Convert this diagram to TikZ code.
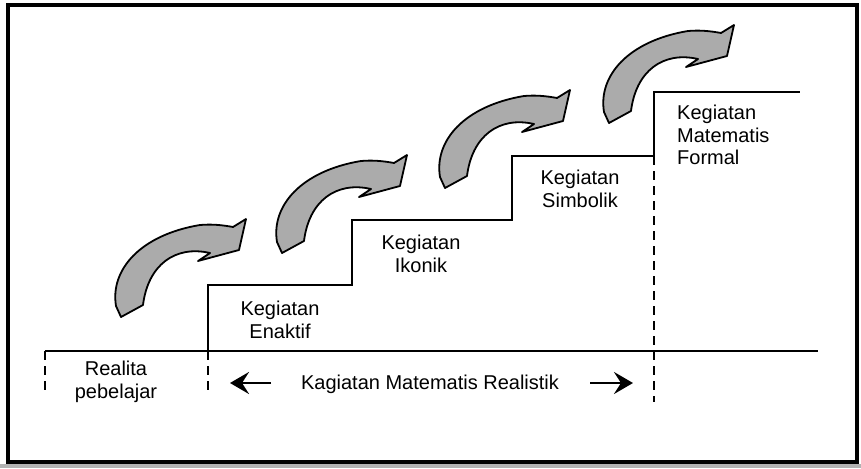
\documentclass[tikz,border=0pt]{standalone}
\usepackage{fontspec}
\setmainfont{Liberation Sans}
\usetikzlibrary{arrows.meta}
\begin{document}
\begin{tikzpicture}[x=1pt,y=-1pt,
  stair/.style={line width=2.7pt, line join=miter},
  dashline/.style={line width=2.7pt, dash pattern=on 9pt off 6pt},
  bend arrow/.style={fill=black!33, draw=black, line width=1.8pt, line join=round},
  lbl/.style={font=\fontsize{20}{22.5}\selectfont, align=center, inner sep=0pt},
  dirarrow/.style={line width=2.6pt, -{Stealth[length=19pt,width=22pt,inset=7pt]}},
  bendarrow/.pic={
    \path[bend arrow] (116,306) .. controls (110,270) and (140,235) .. (200,225)
      .. controls (212,224) and (222,225) .. (233,227) -- (246,219) -- (239,250)
      -- (198,261) -- (210,253)
      .. controls (175,245) and (148,265) .. (143,305) -- (121,317) -- cycle;
  }]
\useasboundingbox (0,0) rectangle (861,468);
\fill[black!30] (0,464) rectangle (861,468);
\draw[line width=3.2pt] (8,5) rectangle (857,462);

% coordinates
\coordinate (b0) at (45,351);
\coordinate (b1) at (818,351);
\coordinate (s1) at (208,351);
\coordinate (s4) at (654,156);
\coordinate (d0) at (45,393);
\coordinate (d1) at (208,395);
\coordinate (d4) at (654,402);

% base line and staircase
\draw[stair] (b0) -- (b1);
\draw[stair] (s1) -- (208,285) -- (352,285) -- (352,220) -- (512,220)
  -- (512,156) -- (s4) -- (654,92) -- (800,92);

% dashed lines
\draw[dashline] (b0) -- (d0);
\draw[dashline] (s1) -- (d1);
\draw[dashline] (s4) -- (d4);

% curved arrows
\pic at (0,0) {bendarrow};
\pic at (161,-64) {bendarrow};
\pic at (324,-129) {bendarrow};
\pic at (488,-194) {bendarrow};

% labels
\node[lbl] (enaktif) at (280,320) {Kegiatan\\Enaktif};
\node[lbl] (ikonik) at (421,254) {Kegiatan\\Ikonik};
\node[lbl] (simbolik) at (580,189) {Kegiatan\\Simbolik};
\node[lbl, align=left, anchor=west] (formal) at (677,135) {Kegiatan\\Matematis\\Formal};
\node[lbl] (realita) at (116,382) {Realita\\pebelajar};
\node[lbl] (kmr) at (430,384) {Kagiatan Matematis Realistik};

% direction arrows
\coordinate (la0) at (271,383);
\coordinate (la1) at (230,383);
\coordinate (ra0) at (590,383);
\coordinate (ra1) at (633,383);
\draw[dirarrow] (la0) -- (la1);
\draw[dirarrow] (ra0) -- (ra1);
\end{tikzpicture}
\end{document}
